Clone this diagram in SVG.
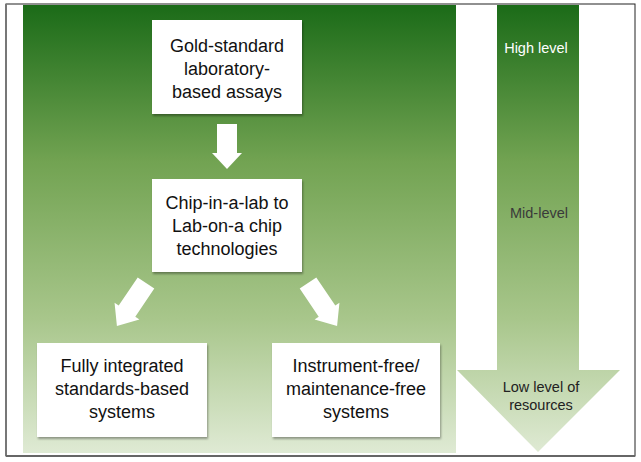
<svg xmlns="http://www.w3.org/2000/svg" width="641" height="462" viewBox="0 0 641 462">
  <defs>
    <linearGradient id="g" gradientUnits="userSpaceOnUse" x1="0" y1="5" x2="0" y2="453">
      <stop offset="0" stop-color="#1b6b18"/>
      <stop offset="0.35" stop-color="#72a352"/>
      <stop offset="0.7" stop-color="#a8c68b"/>
      <stop offset="1" stop-color="#dfeAd4"/>
    </linearGradient>
    <filter id="sh" x="-10%" y="-10%" width="130%" height="130%">
      <feDropShadow dx="1" dy="2" stdDeviation="1.2" flood-color="#000" flood-opacity="0.35"/>
    </filter>
  </defs>
  <style>
    .box { fill: #ffffff; filter: url(#sh); }
    .t { font-family: "Liberation Sans", Arial, sans-serif; font-size: 18px; fill: #111; text-anchor: middle; }
    .s { font-family: "Liberation Sans", Arial, sans-serif; font-size: 14.5px; text-anchor: middle; }
    .arr { fill: #ffffff; }
  </style>
  <rect x="0" y="0" width="641" height="462" fill="#ffffff"/>
  <!-- frame -->
  <rect x="6" y="4" width="629" height="452" fill="none" stroke="#222" stroke-width="1"/>
  <line x1="6" y1="4" x2="6" y2="456" stroke="#777" stroke-width="2"/>
  <line x1="6" y1="456" x2="635" y2="456" stroke="#666" stroke-width="2"/>

  <!-- green background panel -->
  <rect x="23" y="5" width="433" height="448" fill="url(#g)"/>

  <!-- resource-level arrow -->
  <g id="resource-arrow">
    <polygon points="497,5 579,5 579,370 620,370 538,452 457,370 497,370" fill="url(#g)"/>
    <text class="s" x="536" y="53" fill="#ffffff">High level</text>
    <text class="s" x="539" y="218" fill="#3a3a3a">Mid-level</text>
    <text class="s" x="541" y="391.5" fill="#222">Low level of</text>
    <text class="s" x="541" y="410" fill="#222">resources</text>
  </g>

  <g id="connectors">
    <polygon class="arr" points="217,124 237,124 237,153 242,153 227,169 212,153 217,153"/>
    <polygon class="arr" transform="translate(146,283) rotate(34)" points="-10,0 10,0 10,34 15,34 0,52 -15,34 -10,34"/>
    <polygon class="arr" transform="translate(308,283) rotate(-34)" points="-10,0 10,0 10,34 15,34 0,52 -15,34 -10,34"/>
  </g>

  <g id="gold-standard">
    <rect class="box" x="152" y="20" width="150" height="94"/>
    <text class="t" x="227" y="51.5">Gold-standard</text>
    <text class="t" x="227" y="74.5">laboratory-</text>
    <text class="t" x="227" y="97.5">based assays</text>
  </g>

  <g id="chip-in-a-lab">
    <rect class="box" x="152" y="179" width="150" height="93"/>
    <text class="t" x="227" y="209">Chip-in-a-lab to</text>
    <text class="t" x="227" y="232">Lab-on-a chip</text>
    <text class="t" x="227" y="255">technologies</text>
  </g>

  <g id="fully-integrated">
    <rect class="box" x="37" y="343" width="170" height="94"/>
    <text class="t" x="122" y="371.5">Fully integrated</text>
    <text class="t" x="122" y="394.5">standards-based</text>
    <text class="t" x="122" y="417.5">systems</text>
  </g>

  <g id="instrument-free">
    <rect class="box" x="272" y="343" width="168" height="94"/>
    <text class="t" x="356" y="371.5">Instrument-free/</text>
    <text class="t" x="356" y="394.5">maintenance-free</text>
    <text class="t" x="356" y="417.5">systems</text>
  </g>
</svg>
